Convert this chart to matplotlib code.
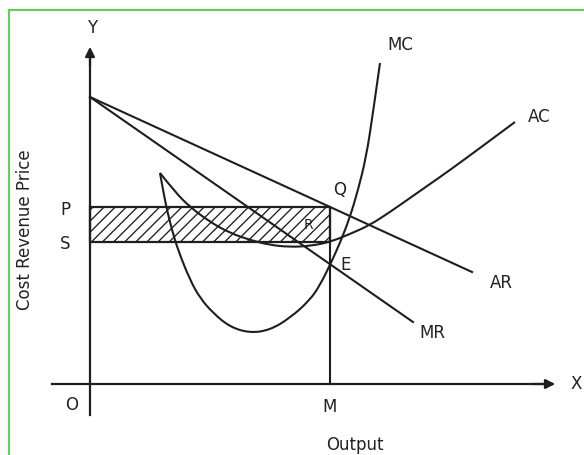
import matplotlib
matplotlib.use("Agg")
import matplotlib.pyplot as plt
from matplotlib.patches import Rectangle, PathPatch
from matplotlib.path import Path

# ---- data (diagram units, origin at O) ----
ar_x = [0.0, 38.2]
ar_y = [28.7, 11.2]
mr_x = [0.0, 32.3]
mr_y = [28.7, 6.2]

mc_x = [7.0, 7.3, 7.7, 8.2, 8.8, 10.0, 11.0, 12.3, 14.0, 16.0, 18.0, 20.0, 22.0, 23.0, 24.0, 25.0, 26.0, 26.8, 27.6, 28.3, 29.0]
mc_y = [21.1, 19.4, 17.4, 15.4, 13.4, 10.4, 8.6, 7.1, 5.7, 5.1, 5.4, 6.6, 8.4, 9.9, 11.9, 14.1, 16.7, 19.4, 22.6, 27.1, 32.1]

ac_x = [7.0, 8.5, 10.0, 12.0, 14.0, 16.0, 18.0, 20.0, 22.0, 24.0, 26.0, 28.0, 30.0, 32.0, 34.0, 36.0, 39.0, 42.5]
ac_y = [21.1, 19.2, 17.7, 16.2, 15.1, 14.4, 13.9, 13.7, 13.8, 14.2, 15.0, 15.9, 17.2, 18.6, 20.0, 21.4, 23.6, 26.2]

output_m = 24.0
price_p = 17.7
cost_s = 14.2

ink = "#1e1e1e"
plt.rcParams["hatch.linewidth"] = 0.95
plt.rcParams["hatch.color"] = "#2a2a2a"


def smooth_path(xs, ys):
    """Quadratic B-spline style path: points act as control points."""
    verts = [(xs[0], ys[0])]
    codes = [Path.MOVETO]
    n = len(xs)
    for i in range(1, n - 1):
        verts.append((xs[i], ys[i]))
        if i < n - 2:
            verts.append(((xs[i] + xs[i + 1]) / 2, (ys[i] + ys[i + 1]) / 2))
        else:
            verts.append((xs[i + 1], ys[i + 1]))
        codes += [Path.CURVE3, Path.CURVE3]
    return Path(verts, codes)


fig = plt.figure(figsize=(5.84, 4.55), dpi=100)
ax = fig.add_axes([0, 0, 1, 1])
ax.set_xlim(-9.0, 49.4)
ax.set_ylim(-7.1, 38.4)
ax.axis("off")

# green frame
ax.plot([-8.15, -8.15], [-8, 37.4], color="#6cc95e", lw=1.6, clip_on=False)
ax.plot([-8.15, 50], [37.4, 37.4], color="#6cc95e", lw=1.6, clip_on=False)

# axes with arrows
ax.plot([0, 0], [-3.1, 32.5], color=ink, lw=1.6)
ax.annotate("", xy=(0, 34.0), xytext=(0, 31.5),
            arrowprops=dict(arrowstyle="-|>", color=ink, lw=1.6, mutation_scale=14))
ax.plot([-3.8, 45.5], [0, 0], color=ink, lw=1.6)
ax.annotate("", xy=(46.8, 0), xytext=(44.0, 0),
            arrowprops=dict(arrowstyle="-|>", color=ink, lw=1.6, mutation_scale=14))

# profit rectangle
rect = Rectangle((0, cost_s), output_m, price_p - cost_s, facecolor="white",
                 edgecolor=ink, hatch="///", lw=1.6)
ax.add_patch(rect)

# vertical at M
ax.plot([output_m, output_m], [0, price_p], color=ink, lw=1.5)

# curves
ax.plot(ar_x, ar_y, color=ink, lw=1.5)
ax.plot(mr_x, mr_y, color=ink, lw=1.5)
ax.add_patch(PathPatch(smooth_path(mc_x, mc_y), facecolor="none", edgecolor=ink, lw=1.5))
ax.add_patch(PathPatch(smooth_path(ac_x, ac_y), facecolor="none", edgecolor=ink, lw=1.5))

fs = 12
tc = "#222222"
ax.text(0.2, 35.6, "Y", ha="center", va="center", fontsize=fs, color=tc)
ax.text(48.6, 0, "X", ha="center", va="center", fontsize=fs, color=tc)
ax.text(-1.8, -2.1, "O", ha="center", va="center", fontsize=fs, color=tc)
ax.text(24.0, -2.3, "M", ha="center", va="center", fontsize=fs, color=tc)
ax.text(26.5, -6.1, "Output", ha="center", va="center", fontsize=fs, color=tc)
ax.text(-2.5, 17.4, "P", ha="center", va="center", fontsize=fs, color=tc)
ax.text(-2.5, 14.0, "S", ha="center", va="center", fontsize=fs, color=tc)
ax.text(25.0, 19.4, "Q", ha="center", va="center", fontsize=fs, color=tc)
ax.text(21.8, 15.9, "R", ha="center", va="center", fontsize=10, color=tc)
ax.text(25.6, 11.9, "E", ha="center", va="center", fontsize=fs, color=tc)
ax.text(31.0, 33.9, "MC", ha="center", va="center", fontsize=fs, color=tc)
ax.text(44.9, 26.7, "AC", ha="center", va="center", fontsize=fs, color=tc)
ax.text(41.1, 10.1, "AR", ha="center", va="center", fontsize=fs, color=tc)
ax.text(34.2, 5.1, "MR", ha="center", va="center", fontsize=fs, color=tc)
ax.text(-6.5, 15.4, "Cost Revenue Price", ha="center", va="center",
        rotation=90, fontsize=fs, color=tc)

fig.savefig("out.png", dpi=100)
